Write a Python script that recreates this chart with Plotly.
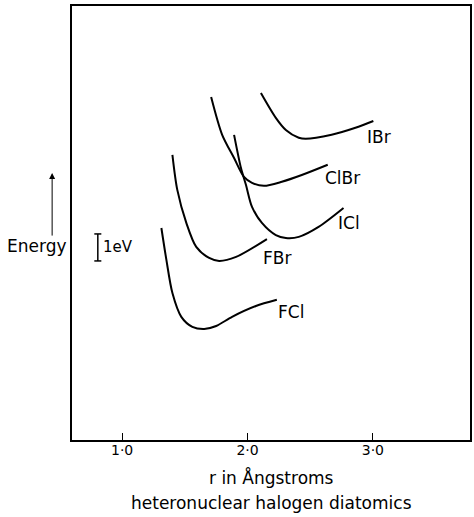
import plotly.graph_objects as go

# ---- data (r in Angstrom, energy in eV, arbitrary zero) ----
ibr_r = [2.107, 2.226, 2.306, 2.409, 2.464, 2.671, 2.861, 3.004]
ibr_e = [12.85, 11.93, 11.48, 11.19, 11.15, 11.30, 11.56, 11.81]

clbr_r = [1.710, 1.798, 1.893, 1.972, 2.036, 2.131, 2.274, 2.433, 2.640]
clbr_e = [12.70, 11.30, 10.44, 9.74, 9.52, 9.41, 9.56, 9.81, 10.19]

icl_r = [1.893, 1.948, 1.988, 2.036, 2.115, 2.226, 2.306, 2.409, 2.567, 2.766]
icl_e = [11.30, 10.07, 9.44, 8.63, 8.04, 7.59, 7.48, 7.52, 7.89, 8.59]

fbr_r = [1.401, 1.440, 1.512, 1.591, 1.694, 1.774, 1.909, 2.155]
fbr_e = [10.56, 9.26, 8.04, 7.15, 6.74, 6.63, 6.78, 7.44]

fcl_r = [1.313, 1.353, 1.401, 1.472, 1.560, 1.655, 1.750, 1.877, 2.067, 2.234]
fcl_e = [7.85, 6.67, 5.44, 4.56, 4.19, 4.11, 4.22, 4.56, 4.96, 5.19]

curves = [
    ("IBr", ibr_r, ibr_e),
    ("ClBr", clbr_r, clbr_e),
    ("ICl", icl_r, icl_e),
    ("FBr", fbr_r, fbr_e),
    ("FCl", fcl_r, fcl_e),
]

# label anchor offsets (relative to curve end)
label_dx = {"IBr": -0.07, "ClBr": -0.04, "ICl": -0.06, "FBr": -0.05, "FCl": -0.01}
label_dy = {"IBr": -0.58, "ClBr": -0.5, "ICl": -0.55, "FBr": -0.7, "FCl": -0.45}

tick_vals = [1, 2, 3]
tick_text = ["1·0", "2·0", "3·0"]

scale_r = 0.806      # position of the 1 eV scale bar
scale_e0 = 6.63      # bottom of the 1 eV scale bar
scale_len = 1.0      # 1 eV
cap = 0.028

FONT = "DejaVu Sans"

fig = go.Figure()
for name, r, e in curves:
    fig.add_trace(go.Scatter(x=r, y=e, mode="lines",
                             line=dict(color="black", width=2, shape="spline", smoothing=0.8),
                             showlegend=False, hoverinfo="skip"))
    fig.add_annotation(x=r[-1] + label_dx[name], y=e[-1] + label_dy[name], text=name, showarrow=False,
                       xanchor="left", yanchor="middle", font=dict(family=FONT, size=17, color="black"))

# 1 eV scale bar
fig.add_shape(type="line", x0=scale_r, x1=scale_r, y0=scale_e0, y1=scale_e0 + scale_len,
              line=dict(color="black", width=1.5))
for yy in (scale_e0, scale_e0 + scale_len):
    fig.add_shape(type="line", x0=scale_r - cap, x1=scale_r + cap, y0=yy, y1=yy,
                  line=dict(color="black", width=1.5))
fig.add_annotation(x=scale_r + 0.025, y=scale_e0 + scale_len / 2, text="1eV", showarrow=False,
                   xanchor="left", yanchor="middle", font=dict(family=FONT, size=15, color="black"))

# Energy arrow and label
fig.add_annotation(xref="paper", yref="paper", x=-0.0499, y=0.615, ax=0, ay=64, axref="pixel", ayref="pixel",
                   text="", showarrow=True, arrowhead=2, arrowsize=1.2, arrowwidth=1, arrowcolor="black")
fig.add_annotation(xref="paper", yref="paper", x=-0.008, y=0.447, text="Energy", showarrow=False,
                   xanchor="right", yanchor="middle", font=dict(family=FONT, size=17, color="black"))

# x axis title lines
fig.add_annotation(xref="paper", yref="paper", x=0.5, y=-0.087, text="r in Ångstroms", showarrow=False,
                   xanchor="center", yanchor="middle", font=dict(family=FONT, size=17, color="black"))
fig.add_annotation(xref="paper", yref="paper", x=0.5, y=-0.146, text="heteronuclear halogen diatomics",
                   showarrow=False, xanchor="center", yanchor="middle",
                   font=dict(family=FONT, size=17, color="black"))

fig.update_layout(
    width=474, height=517,
    margin=dict(l=72, r=2, t=6, b=77),
    paper_bgcolor="white", plot_bgcolor="white",
    font=dict(family=FONT, color="black"),
    xaxis=dict(range=[0.6, 3.775], tickvals=tick_vals, ticktext=tick_text, ticks="inside", ticklen=7,
               tickwidth=1, tickcolor="black", showline=True, linecolor="black", linewidth=2, mirror=True,
               showgrid=False, zeroline=False, ticklabelstandoff=-4,
               tickfont=dict(family=FONT, size=14, color="black")),
    yaxis=dict(range=[0, 16.07], showticklabels=False, ticks="", showline=True, linecolor="black",
               linewidth=2, mirror=True, showgrid=False, zeroline=False),
)

fig.write_html("out.html", config={"displayModeBar": False},
               post_script="document.body.style.margin='0';document.body.style.overflow='hidden';")
